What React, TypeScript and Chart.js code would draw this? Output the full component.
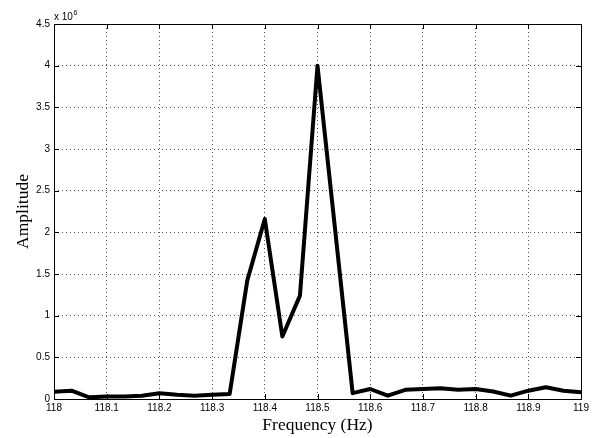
import React, { useEffect, useRef } from "react";
import { Chart, registerables } from "chart.js";
Chart.register(...registerables);

const frequencies = [
  118.0, 118.0333, 118.0667, 118.1, 118.1333, 118.1667, 118.2, 118.2333, 118.2667, 118.3,
  118.3333, 118.3667, 118.4, 118.4333, 118.4667, 118.5, 118.5333, 118.5667, 118.6, 118.6333,
  118.6667, 118.7, 118.7333, 118.7667, 118.8, 118.8333, 118.8667, 118.9, 118.9333, 118.9667, 119.0,
];
const amplitudes = [
  88000, 100000, 20000, 30000, 30000, 40000, 70000, 50000, 40000, 50000,
  60000, 1420000, 2160000, 750000, 1240000, 4000000, 2040000, 70000, 120000, 40000,
  110000, 120000, 130000, 110000, 120000, 90000, 40000, 100000, 140000, 100000, 80000,
];
const xTicks = [118, 118.1, 118.2, 118.3, 118.4, 118.5, 118.6, 118.7, 118.8, 118.9, 119];
const yTicks = [0, 0.5e6, 1e6, 1.5e6, 2e6, 2.5e6, 3e6, 3.5e6, 4e6, 4.5e6];
const xTitle = "Frequency (Hz)";
const yTitle = "Amplitude";

const tickFont = "Liberation Sans";
const titleFont = "Liberation Serif";

const framePlugin = {
  id: "frame",
  afterDraw(chart: any) {
    const { ctx, chartArea: a } = chart;
    const xs = chart.scales.x;
    const ys = chart.scales.y;
    ctx.save();
    ctx.strokeStyle = "#000";
    ctx.lineWidth = 1;
    ctx.setLineDash([]);
    ctx.strokeRect(Math.round(a.left) + 0.5, Math.round(a.top) + 0.5, Math.round(a.right - a.left), Math.round(a.bottom - a.top));
    const tl = 5;
    ctx.beginPath();
    xTicks.forEach((t) => {
      const px = Math.round(xs.getPixelForValue(t)) + 0.5;
      ctx.moveTo(px, a.bottom);
      ctx.lineTo(px, a.bottom - tl);
      ctx.moveTo(px, a.top);
      ctx.lineTo(px, a.top + tl);
    });
    yTicks.forEach((t) => {
      const py = Math.round(ys.getPixelForValue(t)) + 0.5;
      ctx.moveTo(a.left, py);
      ctx.lineTo(a.left + tl, py);
      ctx.moveTo(a.right, py);
      ctx.lineTo(a.right - tl, py);
    });
    ctx.stroke();
    // exponent
    ctx.fillStyle = "#000";
    ctx.textBaseline = "alphabetic";
    ctx.textAlign = "left";
    ctx.font = `10px "${tickFont}"`;
    ctx.fillText("x 10", a.left, a.top - 4);
    const w = ctx.measureText("x 10").width;
    ctx.font = `7px "${tickFont}"`;
    ctx.fillText("6", a.left + w + 0.5, a.top - 9);
    // titles
    ctx.font = `17.5px "${titleFont}"`;
    ctx.textAlign = "center";
    ctx.textBaseline = "middle";
    ctx.fillText(xTitle, (a.left + a.right) / 2, 425);
    ctx.save();
    ctx.translate(23, (a.top + a.bottom) / 2);
    ctx.rotate(-Math.PI / 2);
    ctx.fillText(yTitle, 0, 0);
    ctx.restore();
    ctx.restore();
  },
};

export default function App() {
  const ref = useRef<HTMLCanvasElement | null>(null);
  useEffect(() => {
    if (!ref.current) return;
    const chart = new Chart(ref.current, {
      type: "line",
      data: {
        datasets: [
          {
            data: frequencies.map((f, i) => ({ x: f, y: amplitudes[i] })),
            borderColor: "#000",
            borderWidth: 4,
            pointRadius: 0,
            tension: 0,
            fill: false,
            borderJoinStyle: "round",
            borderCapStyle: "round",
          },
        ],
      },
      options: {
        animation: false,
        responsive: false,
        maintainAspectRatio: false,
        layout: { padding: { left: 0, top: 24, right: 14, bottom: 0 } },
        plugins: { legend: { display: false }, tooltip: { enabled: false } },
        scales: {
          x: {
            type: "linear",
            min: 118,
            max: 119,
            afterBuildTicks: (s: any) => {
              s.ticks = xTicks.map((v) => ({ value: v }));
            },
            afterFit: (s: any) => {
              s.height = 39;
            },
            ticks: {
              color: "#000",
              font: { family: tickFont, size: 10 },
              padding: 3,
              maxRotation: 0,
              autoSkip: false,
              callback: (v: any) => String(Math.round(v * 10) / 10),
            },
            grid: {
              color: "#555",
              lineWidth: 1,
              drawTicks: false,
            },
            border: { display: false, dash: [1, 3] },
          },
          y: {
            type: "linear",
            min: 0,
            max: 4.5e6,
            afterBuildTicks: (s: any) => {
              s.ticks = yTicks.map((v) => ({ value: v }));
            },
            afterFit: (s: any) => {
              s.width = 54;
            },
            ticks: {
              color: "#000",
              font: { family: tickFont, size: 10 },
              padding: 4,
              autoSkip: false,
              callback: (v: any) => String(Math.round((v / 1e6) * 10) / 10),
            },
            grid: {
              color: "#555",
              lineWidth: 1,
              drawTicks: false,
            },
            border: { display: false, dash: [1, 3] },
          },
        },
      },
      plugins: [framePlugin],
    } as any);
    return () => chart.destroy();
  }, []);
  return (
    <div style={{ position: "fixed", left: 0, top: 0, width: 595, height: 438, background: "#fff" }}>
      <canvas ref={ref} width={595} height={438} style={{ width: 595, height: 438, display: "block" }} />
    </div>
  );
}
